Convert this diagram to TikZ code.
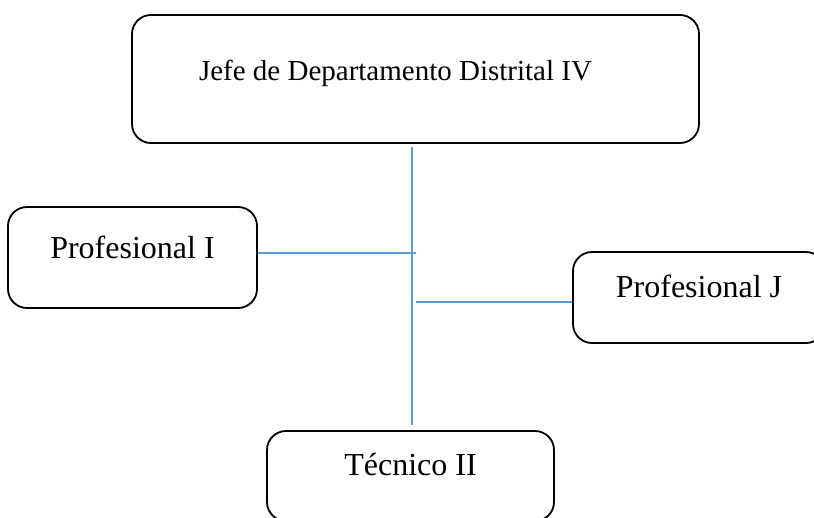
\documentclass[tikz,border=0pt]{standalone}
\usepackage{fontspec}
\setmainfont{Liberation Serif}
\usetikzlibrary{positioning,calc}

\definecolor{linkblue}{RGB}{91,155,213}

\begin{document}
\begin{tikzpicture}[x=1pt,y=-1pt,
  post/.style={draw,rounded corners=19pt,line width=1.8pt,inner sep=0pt,
    font=\fontsize{32}{38}\selectfont},
  link/.style={draw=linkblue,line width=1.5pt}]
	  \useasboundingbox (0,0) rectangle (814,517);
	  \clip (0,0) rectangle (814,517);
	  % boxes
	  \node[post,font=\fontsize{29}{35}\selectfont,minimum width=567pt,text height=65pt,text depth=63pt] (jefe) at (415.5,79)
	    {\hspace*{-40pt}Jefe de Departamento Distrital IV};
	  \node[post,minimum width=249pt,text height=51pt,text depth=50pt] (profI) at (132.5,257.5) {Profesional I};
	  \node[post,minimum width=252pt,text height=45pt,text depth=46pt] (profJ) at (699,297.5) {Profesional J};
	  \node[post,minimum width=287pt,text height=44pt,text depth=46pt] (tecnico) at (410.5,476) {T\'ecnico II};
	  % joins
	  \coordinate (bus) at (412,253);
	  \coordinate (joinI) at (416,253);
	  \coordinate (joinJ) at (416,302);
	  \path[link]
(jefe.south -| bus) ++(0,3) -- ($(tecnico.north -| bus)+(0,-5)$)
(profI.east |- joinI) -- (joinI)
(joinJ) -- (profJ.west |- joinJ)
;
	\end{tikzpicture}
\end{document}
